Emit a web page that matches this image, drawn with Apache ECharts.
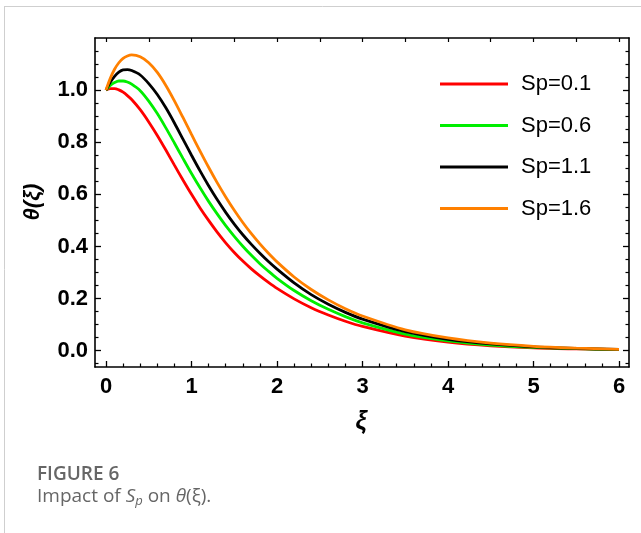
<!DOCTYPE html>
<html>
<head>
<meta charset="utf-8">
<script src="https://cdn.jsdelivr.net/npm/echarts@6/dist/echarts.min.js"></script>
<style>
html,body{margin:0;padding:0;background:#fff;}
#chart{width:641px;height:533px;}
</style>
</head>
<body>
<div id="chart"></div>
<script>
// ---- data ----
var xi   = [0,0.05,0.1,0.15,0.2,0.25,0.3,0.4,0.5,0.6,0.7,0.8,0.9,1.0,1.1,1.2,1.3,1.4,1.5,1.6,1.7,1.8,1.9,2.0,2.2,2.4,2.6,2.8,3.0,3.5,4.0,4.5,5.0,5.5,6.0];
var sp01 = [1.0,1.006,1.006,1.001,0.992,0.979,0.964,0.925,0.878,0.826,0.770,0.712,0.655,0.600,0.548,0.500,0.455,0.414,0.377,0.344,0.314,0.287,0.262,0.239,0.199,0.165,0.137,0.113,0.093,0.056,0.033,0.019,0.011,0.007,0.004];
var sp06 = [1.0,1.018,1.029,1.035,1.035,1.031,1.023,0.998,0.958,0.910,0.855,0.797,0.738,0.680,0.625,0.573,0.525,0.480,0.439,0.401,0.366,0.334,0.305,0.278,0.231,0.192,0.159,0.131,0.107,0.064,0.038,0.022,0.013,0.008,0.004];
var sp11 = [1.0,1.03,1.053,1.069,1.078,1.079,1.075,1.058,1.025,0.983,0.932,0.874,0.812,0.750,0.690,0.633,0.580,0.531,0.486,0.445,0.408,0.374,0.342,0.313,0.260,0.215,0.178,0.147,0.121,0.073,0.044,0.026,0.015,0.009,0.005];
var sp16 = [1.0,1.045,1.08,1.105,1.122,1.131,1.135,1.128,1.105,1.068,1.018,0.959,0.895,0.830,0.766,0.704,0.645,0.590,0.539,0.492,0.449,0.410,0.374,0.341,0.283,0.235,0.195,0.161,0.133,0.080,0.049,0.029,0.017,0.010,0.005];
var seriesNames = ['Sp=0.1','Sp=0.6','Sp=1.1','Sp=1.6'];
var seriesColors = ['#ff0000','#00ee00','#000000','#ff8000'];
var xTicks = [0,1,2,3,4,5,6];
var yTicks = [0.0,0.2,0.4,0.6,0.8,1.0];

// ---- helpers ----
function pairs(xs, ys){ return xs.map(function(x,i){ return [x, ys[i]]; }); }
function range(a, b, step){ var out=[]; for (var v=a; v<=b+1e-9; v+=step) out.push(Math.round(v*1000)/1000); return out; }
function notIn(list, majors){ return list.filter(function(v){ return !majors.some(function(m){ return Math.abs(m-v)<1e-6; }); }); }

var XMIN = -0.1287, XMAX = 6.117, YMIN = -0.0625, YMAX = 1.2;
var xMinor = notIn(range(0.2, 5.8, 0.2), xTicks);
var xTop = range(0, 6, 0.5);
var yMinor = notIn(range(-0.05, 1.15, 0.05), yTicks);
var axisCol = '#000';

function hiddenLabel(){ return {show:false}; }

var chart = echarts.init(document.getElementById('chart'), null, {renderer:'canvas'});
var option = {
  animation: false,
  backgroundColor: '#fff',
  grid: {left:95, top:38, width:534, height:329, containLabel:false},
  legend: {
    orient: 'vertical', left: 435, top: 68,
    icon: 'rect', itemWidth: 68, itemHeight: 3, itemGap: 19.5,
    data: seriesNames,
    textStyle: {fontFamily:'Liberation Sans', fontSize:22, color:'#000', padding:[0,0,0,8], lineHeight:22},
    selectedMode: false
  },
  xAxis: [
    {type:'value', position:'bottom', min:XMIN, max:XMAX, gridIndex:0,
     axisLine:{show:true, onZero:false, lineStyle:{color:axisCol, width:1.6}},
     axisTick:{show:true, inside:true, length:6, customValues:xTicks, lineStyle:{color:axisCol, width:1.3}},
     axisLabel:{show:true, customValues:xTicks, margin:9, fontFamily:'Liberation Sans', fontWeight:'bold', fontSize:22, color:'#000',
       formatter:function(v){ return String(Math.round(v)); }},
     splitLine:{show:false}},
    {type:'value', position:'bottom', min:XMIN, max:XMAX, gridIndex:0,
     axisLine:{show:false, onZero:false},
     axisTick:{show:true, inside:true, length:3.5, customValues:xMinor, lineStyle:{color:axisCol, width:1.2}},
     axisLabel:hiddenLabel(), splitLine:{show:false}},
    {type:'value', position:'top', min:XMIN, max:XMAX, gridIndex:0,
     axisLine:{show:true, onZero:false, lineStyle:{color:axisCol, width:1.6}},
     axisTick:{show:true, inside:true, length:4, customValues:xTop, lineStyle:{color:axisCol, width:1.2}},
     axisLabel:hiddenLabel(), splitLine:{show:false}}
  ],
  yAxis: [
    {type:'value', position:'left', min:YMIN, max:YMAX, gridIndex:0,
     axisLine:{show:true, onZero:false, lineStyle:{color:axisCol, width:1.6}},
     axisTick:{show:true, inside:true, length:6, customValues:yTicks, lineStyle:{color:axisCol, width:1.3}},
     axisLabel:{show:true, customValues:yTicks, margin:7, fontFamily:'Liberation Sans', fontWeight:'bold', fontSize:22, color:'#000',
       formatter:function(v){ return v.toFixed(1); }},
     splitLine:{show:false}},
    {type:'value', position:'left', min:YMIN, max:YMAX, gridIndex:0,
     axisLine:{show:false, onZero:false},
     axisTick:{show:true, inside:true, length:3.5, customValues:yMinor, lineStyle:{color:axisCol, width:1.2}},
     axisLabel:hiddenLabel(), splitLine:{show:false}},
    {type:'value', position:'right', min:YMIN, max:YMAX, gridIndex:0,
     axisLine:{show:true, onZero:false, lineStyle:{color:axisCol, width:1.6}},
     axisTick:{show:true, inside:true, length:6, customValues:yTicks, lineStyle:{color:axisCol, width:1.3}},
     axisLabel:hiddenLabel(), splitLine:{show:false}},
    {type:'value', position:'right', min:YMIN, max:YMAX, gridIndex:0,
     axisLine:{show:false, onZero:false},
     axisTick:{show:true, inside:true, length:3.5, customValues:yMinor, lineStyle:{color:axisCol, width:1.2}},
     axisLabel:hiddenLabel(), splitLine:{show:false}}
  ],
  series: [sp01, sp06, sp11, sp16].map(function(vals, i){
    return {
      name: seriesNames[i], type:'line', xAxisIndex:0, yAxisIndex:0,
      data: pairs(xi, vals), smooth:0.3, symbol:'none', showSymbol:false,
      lineStyle:{color:seriesColors[i], width:2.8}, itemStyle:{color:seriesColors[i]},
      z: 2+i
    };
  }),
  graphic: [
    {type:'line', shape:{x1:4, y1:6.5, x2:641, y2:6.5}, style:{stroke:'#cfcfcf', lineWidth:1}, silent:true},
    {type:'line', shape:{x1:4.5, y1:6, x2:4.5, y2:533}, style:{stroke:'#cfcfcf', lineWidth:1}, silent:true},
    {type:'text', x:32.5, y:202, rotation:Math.PI/2,
     style:{text:'θ(ξ)', textAlign:'center', textVerticalAlign:'middle', font:'italic bold 22px "Liberation Sans"', fill:'#000'}},
    {type:'text', x:361, y:422,
     style:{text:'ξ', textAlign:'center', textVerticalAlign:'middle', font:'italic bold 25px "Liberation Sans"', fill:'#000'}},
    {type:'text', x:37, y:475,
     style:{text:'FIGURE 6', textAlign:'left', textVerticalAlign:'middle', font:'600 19px "Open Sans"', fill:'#666'}},
    {type:'text', x:37, y:497,
     style:{
       text:'{a|Impact of }{i|S}{s|p}{a| on }{i|θ}{a|(ξ).}',
       textAlign:'left', textVerticalAlign:'middle',
       rich:{
         a:{fontFamily:'Open Sans', fontSize:19, fill:'#666'},
         i:{fontFamily:'Open Sans', fontStyle:'italic', fontSize:19, fill:'#666'},
         s:{fontFamily:'Open Sans', fontStyle:'italic', fontSize:13, fill:'#666', padding:[9,0,0,0]}
       }
     }}
  ]
};
chart.setOption(option);
</script>
</body>
</html>
